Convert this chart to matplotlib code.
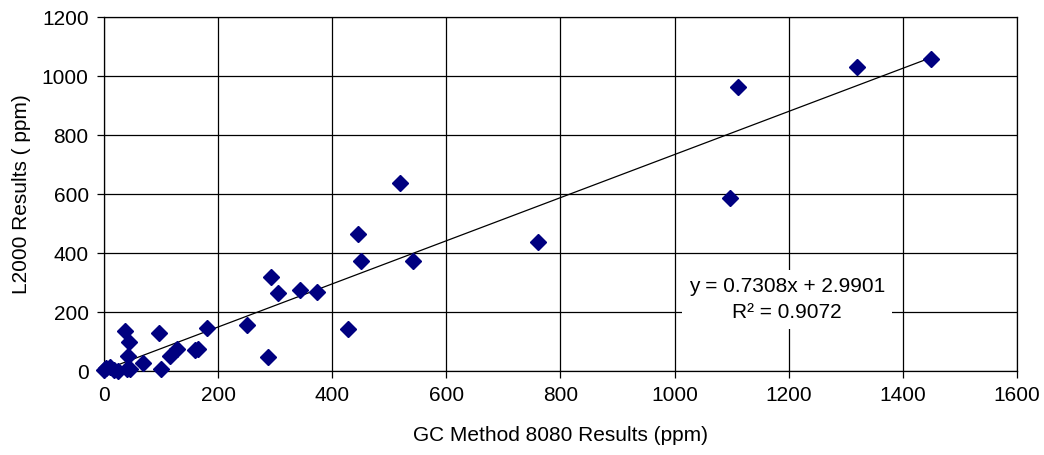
import matplotlib
matplotlib.use("Agg")
import matplotlib.pyplot as plt
import numpy as np

plt.rcParams["font.family"] = ["Liberation Sans", "DejaVu Sans"]

# values
gc_ppm = [0, 4, 10, 18, 25, 40, 45, 37, 44, 42, 69, 97, 100, 116, 128, 160, 165,
          180, 251, 287, 292, 305, 343, 373, 428, 445, 450, 519, 541, 760, 1097,
          1112, 1320, 1450]
l2000_ppm = [2, 10, 12, 4, 1, 8, 6, 137, 98, 50, 26, 128, 8, 52, 75, 70, 74,
             147, 157, 47, 318, 263, 273, 269, 143, 463, 372, 636, 372, 437, 586,
             962, 1030, 1058]

slope = 0.7308
intercept = 2.9901
r2 = 0.9072

x_ticks = [0, 200, 400, 600, 800, 1000, 1200, 1400, 1600]
y_ticks = [0, 200, 400, 600, 800, 1000, 1200]

fig = plt.figure(figsize=(10.44, 4.55), dpi=100)
ax = fig.add_axes([0.0996, 0.1846, 0.8744, 0.778])

ax.grid(True, color="black", linewidth=0.9, zorder=0)
ax.set_axisbelow(True)

fit_x = np.array([min(gc_ppm), max(gc_ppm)])
ax.plot(fit_x, slope * fit_x + intercept, color="black", linewidth=0.9, zorder=2)

ax.plot(gc_ppm, l2000_ppm, linestyle="none", marker="D", markersize=8,
        color="#000080", markeredgecolor="#000080", zorder=3, clip_on=False)

ax.text(1197, 243, f"y = {slope}x + {intercept}\nR\u00b2 = {r2}",
        ha="center", va="center", multialignment="center", fontsize=15,
        linespacing=1.45, zorder=4,
        bbox=dict(facecolor="white", edgecolor="none", pad=5))

ax.set_xlim(0, 1600)
ax.set_ylim(0, 1200)
ax.set_xticks(x_ticks)
ax.set_yticks(y_ticks)
ax.tick_params(direction="out", length=5, width=0.9, labelsize=15, pad=6)

for side in ["left", "bottom", "top", "right"]:
    ax.spines[side].set_linewidth(0.9)

ax.set_xlabel("GC Method 8080 Results (ppm)", fontsize=15, labelpad=15)
ax.set_ylabel("L2000 Results ( ppm)", fontsize=15, labelpad=8)

fig.savefig("out.png", dpi=100)
